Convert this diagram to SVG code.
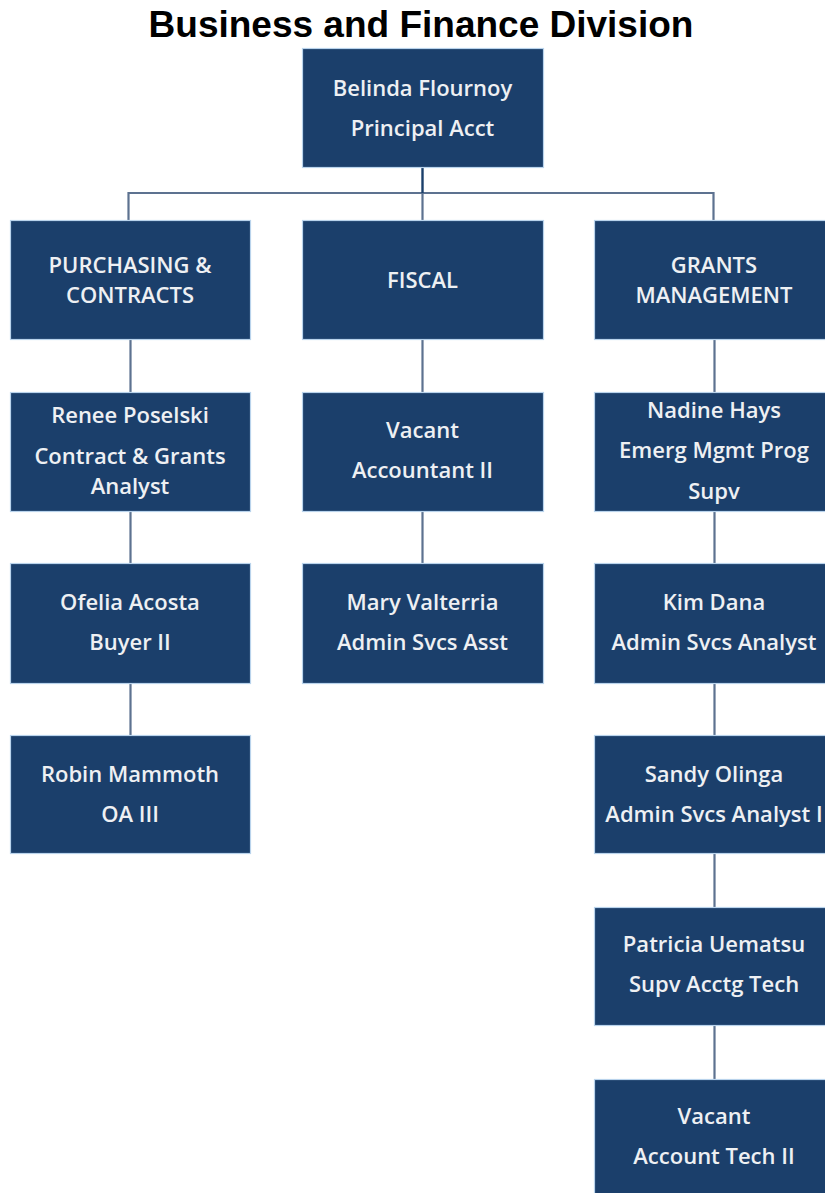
<svg xmlns="http://www.w3.org/2000/svg" width="825" height="1193" viewBox="0 0 825 1193">
<style>
.box{fill:#1b3f6b;stroke:#b9d3ec;stroke-width:1.2}
.t{font-family:"Open Sans",Lato,sans-serif;font-size:22px;font-weight:600;fill:#eef0f3;text-anchor:middle;dominant-baseline:central}
.c{fill:none;stroke:#5d7290;stroke-width:2.2}
.title{font-family:"Liberation Sans",Arial,sans-serif;font-weight:bold;font-size:37px;fill:#000;text-anchor:middle}
</style>
<rect width="825" height="1193" fill="#fff"/>
<text class="title" x="421" y="37">Business and Finance Division</text>
<g id="connectors">
<path class="c" d="M128.5 220V193H713.5V220"/>
<path class="c" d="M422.5 193V220"/>
<path d="M422.5 168V193" stroke="#1b3f6b" stroke-width="2.4" fill="none"/>
<path class="c" d="M130.5 340V392M130.5 512V563M130.5 684V735"/>
<path class="c" d="M422.5 340V392M422.5 512V563"/>
<path class="c" d="M714.5 340V392M714.5 512V563M714.5 684V735M714.5 854V907M714.5 1026V1079"/>
</g>
<g id="n-belinda"><rect class="box" x="302.5" y="48.5" width="241" height="119"/><text class="t" x="422.5" y="87">Belinda Flournoy</text><text class="t" x="422.5" y="127">Principal Acct</text></g>
<g id="n-purchasing"><rect class="box" x="10.5" y="220.5" width="240" height="119"/><text class="t" x="130" y="264">PURCHASING &amp;</text><text class="t" x="130" y="294">CONTRACTS</text></g>
<g id="n-fiscal"><rect class="box" x="302.5" y="220.5" width="241" height="119"/><text class="t" x="422.5" y="279">FISCAL</text></g>
<g id="n-grants"><rect class="box" x="594.5" y="220.5" width="241" height="119"/><text class="t" x="714" y="264">GRANTS</text><text class="t" x="714" y="294">MANAGEMENT</text></g>
<g id="n-renee"><rect class="box" x="10.5" y="392.5" width="240" height="119"/><text class="t" x="130" y="414">Renee Poselski</text><text class="t" x="130" y="455">Contract &amp; Grants</text><text class="t" x="130" y="485">Analyst</text></g>
<g id="n-vacant-acct"><rect class="box" x="302.5" y="392.5" width="241" height="119"/><text class="t" x="422.5" y="429">Vacant</text><text class="t" x="422.5" y="469">Accountant II</text></g>
<g id="n-nadine"><rect class="box" x="594.5" y="392.5" width="241" height="119"/><text class="t" x="714" y="409">Nadine Hays</text><text class="t" x="714" y="449">Emerg Mgmt Prog</text><text class="t" x="714" y="490">Supv</text></g>
<g id="n-ofelia"><rect class="box" x="10.5" y="563.5" width="240" height="120"/><text class="t" x="130" y="601">Ofelia Acosta</text><text class="t" x="130" y="641">Buyer II</text></g>
<g id="n-mary"><rect class="box" x="302.5" y="563.5" width="241" height="120"/><text class="t" x="422.5" y="601">Mary Valterria</text><text class="t" x="422.5" y="641">Admin Svcs Asst</text></g>
<g id="n-kim"><rect class="box" x="594.5" y="563.5" width="241" height="120"/><text class="t" x="714" y="601">Kim Dana</text><text class="t" x="714" y="641">Admin Svcs Analyst</text></g>
<g id="n-robin"><rect class="box" x="10.5" y="735.5" width="240" height="118"/><text class="t" x="130" y="773">Robin Mammoth</text><text class="t" x="130" y="813">OA III</text></g>
<g id="n-sandy"><rect class="box" x="594.5" y="735.5" width="241" height="118"/><text class="t" x="714" y="773">Sandy Olinga</text><text class="t" x="714" y="813">Admin Svcs Analyst I</text></g>
<g id="n-patricia"><rect class="box" x="594.5" y="907.5" width="241" height="118"/><text class="t" x="714" y="943">Patricia Uematsu</text><text class="t" x="714" y="983">Supv Acctg Tech</text></g>
<g id="n-vacant-tech"><rect class="box" x="594.5" y="1079.5" width="241" height="118"/><text class="t" x="714" y="1115">Vacant</text><text class="t" x="714" y="1155">Account Tech II</text></g>
</svg>
